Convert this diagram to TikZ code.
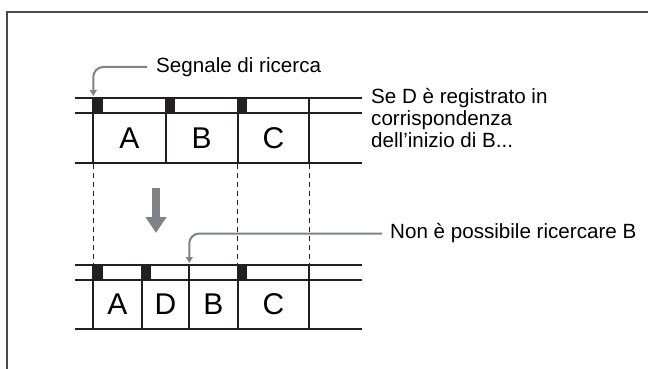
\documentclass[tikz,border=0pt]{standalone}
\usepackage{fontspec}
\setmainfont{Liberation Sans}
\usepackage{xcolor}
\usetikzlibrary{arrows.meta,positioning}
\definecolor{ink}{HTML}{231F20}
\definecolor{pointer}{HTML}{808285}
\definecolor{edge}{HTML}{4A4A4A}

\begin{document}
\begin{tikzpicture}[
  x=1pt,y=-1pt,
  font=\fontsize{20.6}{22}\selectfont,
  frame/.style={draw=edge,line width=1.3pt},
  tape/.style={draw=ink,line width=2pt},
  guide/.style={draw=ink,line width=0.9pt,dash pattern=on 5pt off 4pt},
  cue/.style={fill=ink},
  letter/.style={font=\fontsize{30}{30}\selectfont,inner sep=0pt},
  lbl/.style={inner sep=0pt,align=left},
  callout/.style={draw=pointer,line width=2pt,rounded corners=10pt,-{Triangle[length=6pt,width=7pt]}},
  bigarr/.style={draw=pointer,line width=8pt,-{Triangle[length=16pt,width=20pt]}}
]
\useasboundingbox (0,0) rectangle (648,369);
\draw[frame] (7,369) -- (7,12) -- (648,12);

% upper tape
\foreach \y in {98.3,112.7,163.3} \draw[tape] (75,\y) -- (362,\y);
\foreach \x in {93.3,165.7,237.7,309.3} \draw[tape] (\x,98.3) -- (\x,163.3);
\foreach \x in {93.3,165.7,237.7} \fill[cue] (\x,99.3) rectangle ++(9.5,12.4);
\node[letter] (a1) at (129.5,138) {A};
\node[letter] (b1) at (201.7,138) {B};
\node[letter] (c1) at (273.5,138) {C};

% lower tape
\foreach \y in {265,280,329.3} \draw[tape] (75,\y) -- (362,\y);
\foreach \x in {93.3,141.7,189.3,237.7,309.3} \draw[tape] (\x,265) -- (\x,329.3);
\foreach \x in {93.3,141.7,237.7} \fill[cue] (\x,266) rectangle ++(9.5,13);
\node[letter] (a2) at (117.5,304.6) {A};
\node[letter] (d2) at (165.5,304.6) {D};
\node[letter] (b2) at (213.5,304.6) {B};
\node[letter] (c2) at (273.5,304.6) {C};

% guides between the tapes
\foreach \x in {93.3,237.7,309.3} \draw[guide] (\x,164.3) -- (\x,264);
\coordinate (top) at (156,188.3);
\coordinate (bot) at (156,233);
\draw[bigarr] (top) -- (bot);

% labels
\node[lbl,anchor=west] (sig) at (156,67) {Segnale di ricerca};
\coordinate (tipA) at (93.3,96);
\draw[callout] ([xshift=-9pt]sig.west) -| (tipA);

\node[lbl,anchor=base west] (note) at (371,147.5) {Se D è registrato in\\corrispondenza\\dell’inizio di B...};

\node[lbl,anchor=west] (nob) at (390,233.5) {Non è possibile ricercare B};
\coordinate (tipB) at (189.3,263);
\draw[callout] ([xshift=-8pt]nob.west) -| (tipB);
\end{tikzpicture}
\end{document}
